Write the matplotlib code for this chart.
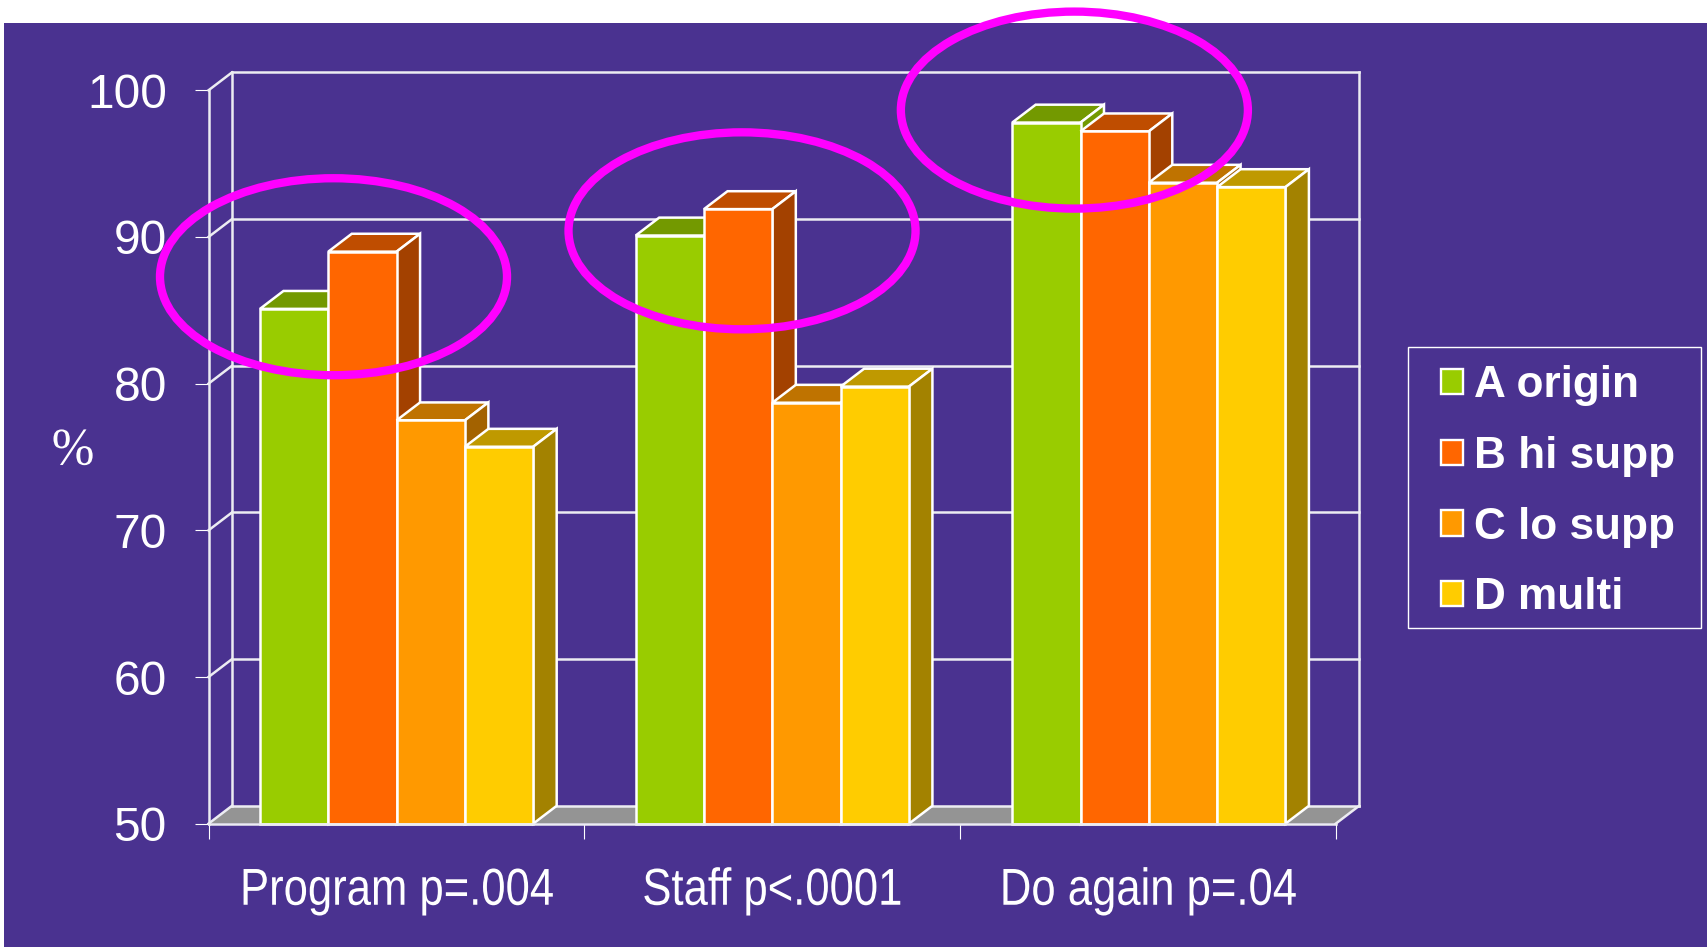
import matplotlib
matplotlib.use("Agg")
import matplotlib.pyplot as plt
from matplotlib.patches import Ellipse, Polygon, Rectangle
from matplotlib.patheffects import AbstractPathEffect
from matplotlib.transforms import Affine2D

# Survey results, percent answering favourably
categories = ["Program p=.004", "Staff p<.0001", "Do again p=.04"]
series_names = ["A origin", "B hi supp", "C lo supp", "D multi"]
a_origin = [85.1, 90.1, 97.8]
b_hi_supp = [89.0, 91.9, 97.2]
c_lo_supp = [77.5, 78.7, 93.7]
d_multi = [75.7, 79.8, 93.4]
series_values = [a_origin, b_hi_supp, c_lo_supp, d_multi]
y_ticks = [50, 60, 70, 80, 90, 100]

front_colors = ["#99CC00", "#FF6600", "#FF9900", "#FFCC00"]
top_colors = ["#739900", "#BF4D00", "#BF7300", "#BF9900"]
side_colors = ["#739900", "#A34100", "#A36200", "#A38200"]

BG = "#4A3290"
LINE = "#ECECF2"
W, H = 1707, 947
DPI = 100

# Extruded-box look: depth of the chart box in data units
DX = 0.0625
DY = 1.22
BAR_W = 0.1818
MARGIN = 0.137
GROUP_POS = [0.0, 1.0, 2.002]


class Condensed(AbstractPathEffect):
    """Squeeze a text run horizontally about its own centre."""

    def __init__(self, factor):
        super().__init__()
        self.factor = factor

    def draw_path(self, renderer, gc, tpath, affine, rgbFace=None):
        ext = tpath.get_extents()
        cx = (ext.x0 + ext.x1) / 2
        squeeze = Affine2D().translate(-cx, 0).scale(self.factor, 1).translate(cx, 0)
        renderer.draw_path(gc, tpath, squeeze + affine, rgbFace)


fig = plt.figure(figsize=(W / DPI, H / DPI), dpi=DPI, facecolor="white")
fig.patches.append(Rectangle((4 / W, 0), 1 - 4 / W, 1 - 23 / H, transform=fig.transFigure,
                             facecolor=BG, edgecolor="none", zorder=-10))

ax = fig.add_axes([208.5 / W, (H - 823.7) / H, 1127.2 / W, 733.4 / H])
ax.set_facecolor("none")
ax.set_xlim(0, 3)
ax.set_ylim(50, 100)
for s in ax.spines.values():
    s.set_visible(False)

SANS = ["Liberation Sans", "DejaVu Sans"]

# Axis ticks and labels
ax.set_yticks(y_ticks)
ax.tick_params(axis="y", colors="white", length=10, width=0.8, pad=20, labelsize=34.5)
for t in ax.get_yticklabels():
    t.set_family(SANS)
ax.set_xticks([0, 1, 2, 3])
ax.set_xticklabels([])
ax.tick_params(axis="x", which="major", colors="white", length=11, width=0.8)
ax.set_xticks([0.5, 1.5, 2.5], minor=True)
ax.set_xticklabels(categories, minor=True, family=SANS, fontsize=37.4, color="white")
ax.tick_params(axis="x", which="minor", length=0, pad=31)
for t in ax.get_xticklabels(minor=True):
    t.set_path_effects([Condensed(0.84)])

ax.set_ylabel("%", rotation=0, family=["Liberation Serif"], fontsize=38, color="white",
              ha="center", va="center")
ax.yaxis.set_label_coords(-0.1202, 0.5075)
ax.yaxis.label.set_path_effects([Condensed(0.97)])

lw_frame = 1.8
frame = dict(color=LINE, lw=lw_frame, clip_on=False, zorder=2, solid_capstyle="projecting")

# Floor
ax.add_patch(Polygon([(0, 50), (3, 50), (3 + DX, 50 + DY), (DX, 50 + DY)], closed=True,
                     facecolor="#949494", edgecolor="none", clip_on=False, zorder=1))

# Back wall grid, side-wall diagonals and box outline
for v in y_ticks:
    ax.plot([DX, 3 + DX], [v + DY, v + DY], **frame)
    ax.plot([0, DX], [v, v + DY], **frame)
ax.plot([0, 0], [50, 100], **frame)
ax.plot([DX, DX], [50 + DY, 100 + DY], **frame)
ax.plot([3 + DX, 3 + DX], [50 + DY, 100 + DY], **frame)
ax.plot([3, 3 + DX], [50, 50 + DY], **frame)

# Bars, drawn left to right so each one sits on top of its neighbour's side face
z = 3
edge = dict(edgecolor="white", linewidth=lw_frame, clip_on=False, joinstyle="miter")
for g, gx in enumerate(GROUP_POS):
    for s, vals in enumerate(series_values):
        x0 = gx + MARGIN + s * BAR_W
        x1 = x0 + BAR_W
        v = vals[g]
        ax.add_patch(Polygon([(x0, v), (x1, v), (x1 + DX, v + DY), (x0 + DX, v + DY)],
                             closed=True, facecolor=top_colors[s], zorder=z, **edge))
        ax.add_patch(Polygon([(x1, 50), (x1 + DX, 50 + DY), (x1 + DX, v + DY), (x1, v)],
                             closed=True, facecolor=side_colors[s], zorder=z, **edge))
        ax.bar(x0, v - 50, bottom=50, width=BAR_W, align="edge", color=front_colors[s],
               zorder=z + 0.5, **edge)
        z += 1

ax.plot([0, 3], [50, 50], color=LINE, lw=lw_frame, clip_on=False, zorder=z)
z += 1

# Highlight rings
ring_centres = [(0.3327, 87.29), (1.42, 90.42), (2.3045, 98.65)]
for c in ring_centres:
    ax.add_patch(Ellipse(c, 0.9236, 13.43, facecolor="none", edgecolor="#FF00FF",
                         linewidth=6, clip_on=False, zorder=z))

# Legend: entries laid out by matplotlib, box drawn separately
handles = [Rectangle((0, 0), 1, 1, facecolor=c, edgecolor="white", linewidth=1.7)
           for c in front_colors]
leg = fig.legend(handles, series_names, loc="upper left",
                 bbox_to_anchor=(1441 / W, (H - 365) / H), borderaxespad=0,
                 prop={"family": SANS, "weight": "bold", "size": 31.8},
                 labelcolor="white", frameon=False, handlelength=0.5, handleheight=0.5,
                 handletextpad=0.25, borderpad=0, labelspacing=0.675)
fig.patches.append(Rectangle((1408.3 / W, (H - 628.3) / H), 292.6 / W, 281 / H,
                             transform=fig.transFigure, facecolor="none",
                             edgecolor="white", linewidth=1.0))

fig.savefig("out.png", dpi=DPI, facecolor="white")
